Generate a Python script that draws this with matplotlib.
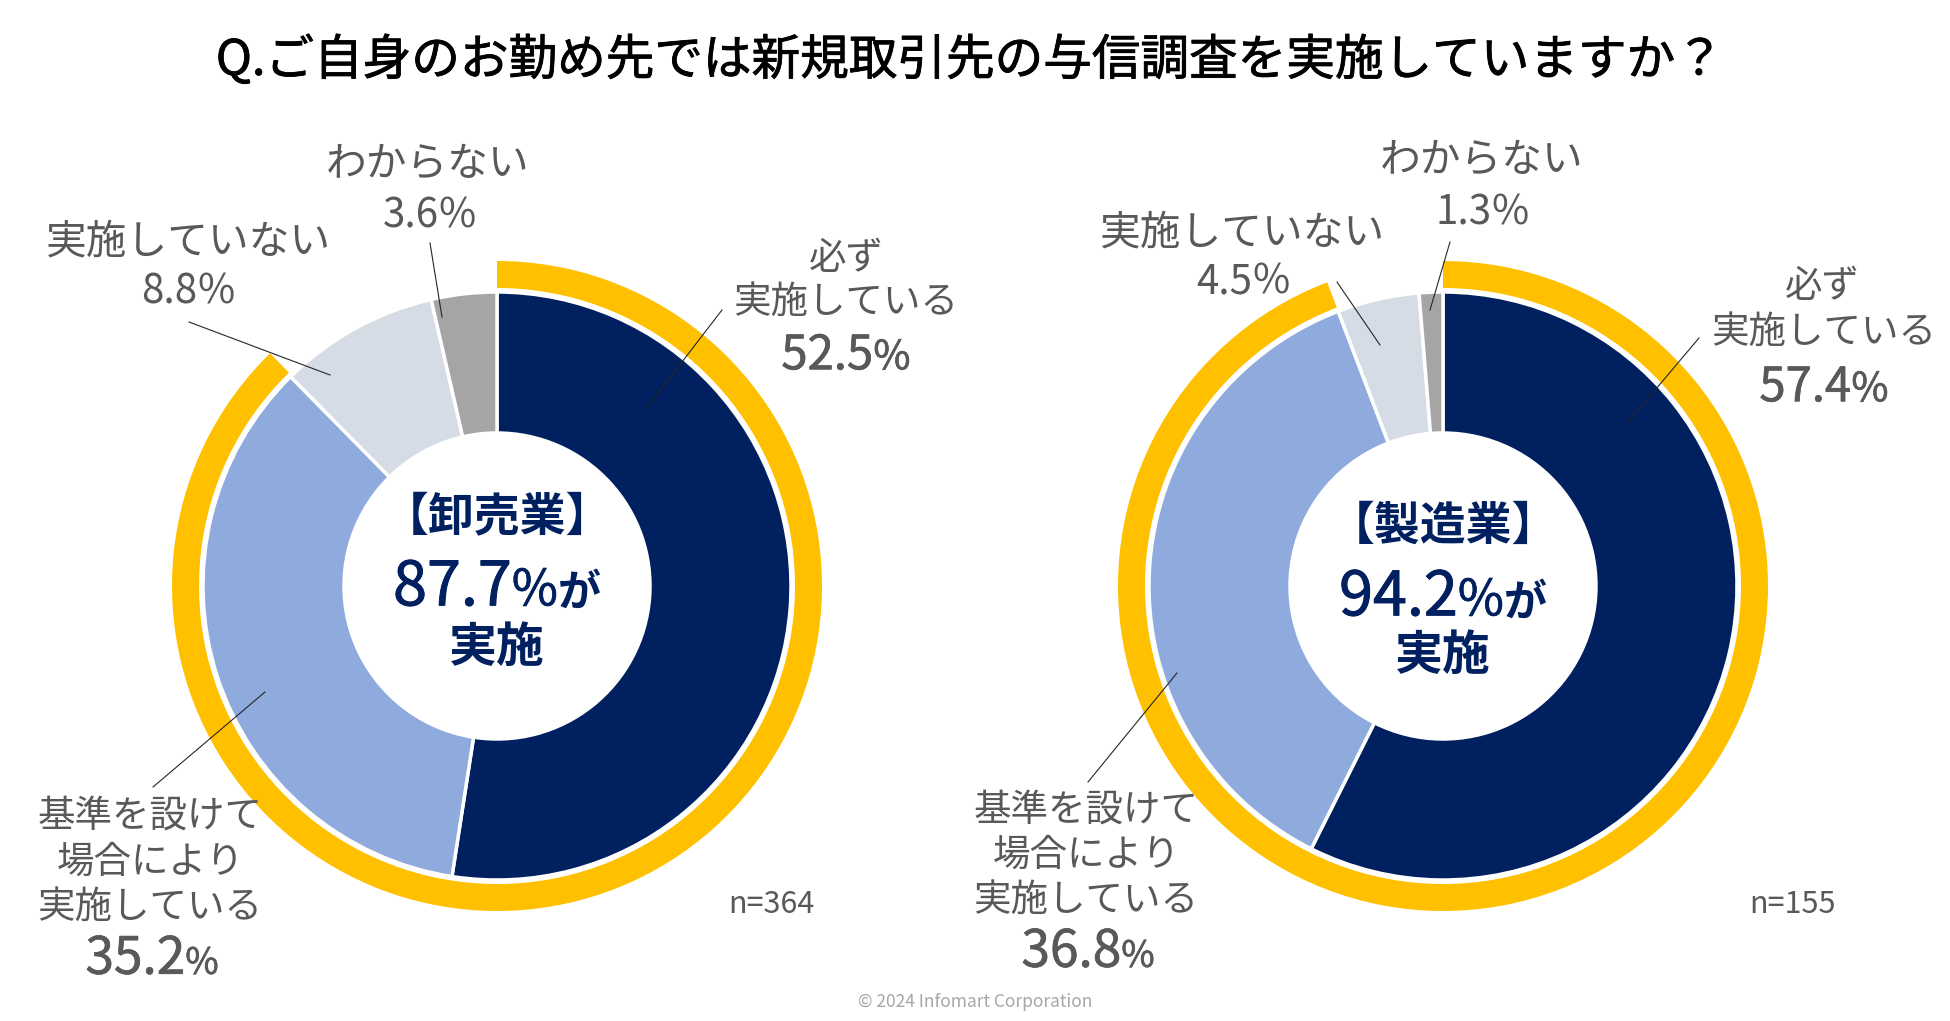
import matplotlib
matplotlib.use("Agg")
import matplotlib.pyplot as plt
import matplotlib.patheffects as pe

# ---------------- data ----------------
title = "Q.ご自身のお勤め先では新規取引先の与信調査を実施していますか？"
categories = ["必ず\n実施している", "基準を設けて\n場合により\n実施している", "実施していない", "わからない"]
industries = ["卸売業", "製造業"]
sample_sizes = [364, 155]
wholesale = [52.5, 35.2, 8.8, 3.6]
manufacturing = [57.4, 36.8, 4.5, 1.3]
series = [wholesale, manufacturing]
copyright_text = "© 2024 Infomart Corporation"

# ---------------- style ----------------
FAM = ["Noto Sans CJK JP", "DejaVu Sans"]
plt.rcParams["font.family"] = FAM
seg_colors = ["#002060", "#8FAADC", "#D6DCE5", "#A5A5A5"]
GOLD = "#FFC000"
NAVY = "#002060"
GREY = "#595959"

W, H = 1950, 1021
fig = plt.figure(figsize=(W / 100, H / 100), dpi=100)
ax = fig.add_axes([0, 0, 1, 1])


def Y(y):
    return H - y


def medium(color, lw):
    return [pe.withStroke(linewidth=lw, foreground=color)]


R_PIE, R_HOLE, R_GOLD, GOLD_W = 294, 153, 325, 27
centers = [(497, 586), (1443, 586)]

layout = [
    {
        "lines": [[(846, 258), (846, 302)], [(150, 816), (150, 862), (150, 907)], [(189, 242)], [(428, 164)]],
        "value": [(846, 352), (152, 955), (188, 289), (429, 213)],
        "leader": [((722, 310), (645, 410)), ((153, 787), (265, 692)), ((189, 322), (330, 375)), ((430, 243), (442, 317))],
        "label_size": [27, 27, 29.3, 29.3],
        "center": [(497, 517), (497, 583), (497, 647)],
        "n": (771, 904),
    },
    {
        "lines": [[(1822, 287), (1824, 332)], [(1086, 810), (1086, 855), (1086, 900)], [(1243, 233)], [(1482, 160)]],
        "value": [(1824, 384), (1088, 948), (1243, 279), (1482, 210)],
        "leader": [((1699, 338), (1628, 422)), ((1088, 782), (1177, 673)), ((1337, 282), (1380, 345)), ((1450, 242), (1430, 310))],
        "label_size": [27, 27, 29.3, 29.3],
        "center": [(1443, 527), (1443, 593), (1443, 655)],
        "n": (1793, 904),
    },
]
# value text style: (number size, % size, stroke width)
value_style = [(34, 29, 0.5), (37, 26, 0.5), (29, 29, 0), (29, 29, 0)]

for vals, (cx, cy) in zip(series, centers):
    ax.pie(vals, radius=R_PIE, center=(cx, Y(cy)), startangle=90, counterclock=False,
           colors=seg_colors, wedgeprops=dict(width=R_PIE - R_HOLE, edgecolor="white", linewidth=2.5))
    total = vals[0] + vals[1]
    ax.pie([total, 100 - total], radius=R_GOLD, center=(cx, Y(cy)), startangle=90, counterclock=False,
           colors=[GOLD, "none"], wedgeprops=dict(width=GOLD_W, linewidth=0))

ax.set_xlim(0, W)
ax.set_ylim(0, H)
ax.set_aspect("auto")
ax.axis("off")

renderer = fig.canvas.get_renderer()


def pieces(xc, yc, parts, color):
    """parts: list of (text, size, weight, stroke). Centred horizontally at xc, ink-centre yc."""
    big = max(p[1] for p in parts)
    base = Y(yc) - 0.365 * big * 100 / 72
    objs = []
    for txt, size, wt, st in parts:
        t = ax.text(0, base, txt, fontsize=size, fontweight=wt, color=color, ha="left", va="baseline")
        if st:
            t.set_path_effects(medium(color, st))
        objs.append(t)
    widths = [o.get_window_extent(renderer).width for o in objs]
    x = xc - sum(widths) / 2
    for o, w in zip(objs, widths):
        o.set_x(x)
        x += w


for ci, (vals, lay) in enumerate(zip(series, layout)):
    for k, cat in enumerate(categories):
        for line, (lx, ly) in zip(cat.split("\n"), lay["lines"][k]):
            ax.text(lx, Y(ly), line, fontsize=lay["label_size"][k], color=GREY, ha="center", va="center")
        ns, ps, st = value_style[k]
        vx, vy = lay["value"][k]
        pieces(vx, vy, [(f"{vals[k]:.1f}", ns, "normal", st), ("%", ps, "normal", st)], GREY)
        (x0, y0), (x1, y1) = lay["leader"][k]
        ax.plot([x0, x1], [Y(y0), Y(y1)], color="#262626", lw=0.8)
    total = vals[0] + vals[1]
    (ax1, ay1), (ax2, ay2), (ax3, ay3) = lay["center"]
    ax.text(ax1, Y(ay1), f"【{industries[ci]}】", fontsize=33, fontweight="bold", color=NAVY, ha="center", va="center")
    pieces(ax2, ay2, [(f"{total:.1f}", 44, "normal", 0.7), ("%", 36, "normal", 0.5), ("が", 31, "bold", 0)], NAVY)
    ax.text(ax3, Y(ay3), "実施", fontsize=34.5, fontweight="bold", color=NAVY, ha="center", va="center")
    nx, ny = lay["n"]
    ax.text(nx, Y(ny), f"n={sample_sizes[ci]}", fontsize=22, color=GREY, ha="center", va="center")

t = ax.text(970, Y(61), title, fontsize=35, fontweight="normal", color="black", ha="center", va="center")
t.set_path_effects(medium("black", 0.6))
ax.text(975, Y(1002), copyright_text, fontsize=12.5, color="#A6A6A6", ha="center", va="center")

fig.savefig("out.png", dpi=100, facecolor="white")
